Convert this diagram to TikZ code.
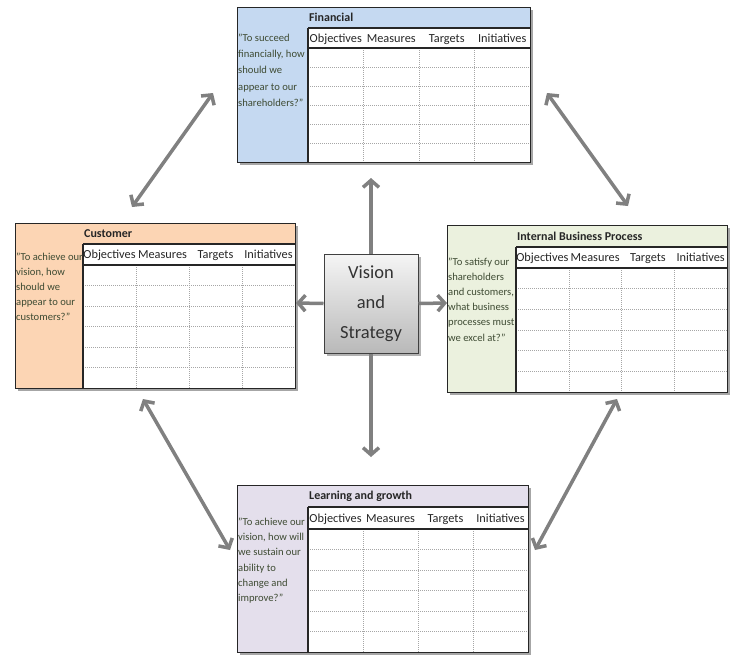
\documentclass[tikz,border=0pt]{standalone}
\usepackage{fontspec}
\setmainfont{Carlito}
\usetikzlibrary{arrows.meta}
\definecolor{finc}{HTML}{C5D9F1}
\definecolor{cusc}{HTML}{FCD5B4}
\definecolor{ibpc}{HTML}{EBF1DE}
\definecolor{lrnc}{HTML}{E4DFEC}
\definecolor{arrowgray}{HTML}{808080}
\definecolor{quotegreen}{HTML}{3E4B33}
\tikzset{
  arr/.style={draw=arrowgray, line width=3.5pt, {Straight Barb[length=7pt,width=16pt]}-{Straight Barb[length=7pt,width=16pt]}},
  arrone/.style={draw=arrowgray, line width=3.5pt, -{Straight Barb[length=7pt,width=16pt]}},
  gridline/.style={draw=gray!70, line width=0.5pt, dash pattern=on 1pt off 1pt},
  rulebar/.style={draw=black!85, line width=1.3pt},
  panel/.style={draw=black!85, line width=1.3pt, inner sep=0pt, anchor=north west},
  headlbl/.style={font=\fontsize{12.3}{14}\selectfont, text=black!85, inner sep=0pt, anchor=base},
  ptitle/.style={font=\fontsize{12}{14}\selectfont\bfseries, text=black!85, inner sep=0pt, anchor=west},
  quotetxt/.style={text=quotegreen, inner sep=0pt, anchor=north west, align=left},
  visbox/.style={draw=black!75, line width=1pt, top color=gray!8, bottom color=gray!55,
    minimum width=94pt, minimum height=99pt, inner sep=0pt, align=center,
    font=\fontsize{18.5}{30}\selectfont, text=black!80},
}
% #1 name #2 x0 #3 y0 #4 x1 #5 y1 #6 left column x #7 title bottom #8 header bottom #9 colour
\newcommand\bscpanel[9]{%
  \fill[black!35] (#2+2.5,#3+2.5) rectangle (#4+2.5,#5+2.5);
  \fill[white] (#2,#3) rectangle (#4,#5);
  \fill[#9] (#2,#3) rectangle (#4,#7);
  \fill[#9] (#2,#7) rectangle (#6,#5);
  \foreach \k in {1,...,5} \draw[gridline] (#6,{#8+\k*(#5-#8)/6}) -- (#4,{#8+\k*(#5-#8)/6});
  \foreach \k in {1,2,3} \draw[gridline] ({#6+\k*(#4-#6)/4},#8) -- ({#6+\k*(#4-#6)/4},#5);
  \draw[rulebar] (#6,#7) -- (#4,#7) (#6,#8) -- (#4,#8) (#6,#7) -- (#6,#5);
  \foreach \t [count=\k] in {Objectives,Measures,Targets,Initiatives}
    \node[headlbl] at ({#6+(\k-0.5)*(#4-#6)/4},{(#7+#8)/2+4.2}) {\t};
  \node[panel, minimum width={#4-#2}, minimum height={#5-#3}] (#1) at (#2,#3) {};
}
\begin{document}
\begin{tikzpicture}[x=1pt,y=-1pt]
\useasboundingbox (0,0) rectangle (735,654);

\bscpanel{fin}{237}{7}{530}{162}{308}{28}{48}{finc}
\bscpanel{cus}{15}{223}{295}{388}{83}{244}{265}{cusc}
\bscpanel{ibp}{447}{225}{727}{392}{516}{247}{268}{ibpc}
\bscpanel{lrn}{237}{485}{528}{652}{308}{507}{529}{lrnc}

\node[ptitle] (fint) at (309,17.5) {Financial};
\node[ptitle] (cust) at (84,233.5) {Customer};
\node[ptitle] (ibpt) at (517,236) {Internal Business Process};
\node[ptitle] (lrnt) at (309,496) {Learning and growth};

\node[quotetxt, font=\fontsize{10.6}{16.3}\selectfont] (finq) at (238,33.5)
  {"To succeed\\financially, how\\should we\\appear to our\\shareholders?"};
\node[quotetxt, font=\fontsize{10.6}{15}\selectfont] (cusq) at (16,252.5)
  {"To achieve our\\vision, how\\should we\\appear to our\\customers?"};
\node[quotetxt, font=\fontsize{10.6}{15.2}\selectfont] (ibpq) at (448,257.5)
  {"To satisfy our\\shareholders\\and customers,\\what business\\processes must\\we excel at?"};
\node[quotetxt, font=\fontsize{10.6}{15.3}\selectfont] (lrnq) at (238,517.5)
  {"To achieve our\\vision, how will\\we sustain our\\ability to\\change and\\improve?"};

\fill[black!30] (326.5,256.5) rectangle (420.5,355.5);
\node[visbox] (vis) at (371,303.5) {Vision\\and\\Strategy};

\coordinate (up) at (371,178);
\coordinate (down) at (371,457);
\coordinate (left) at (296,303);
\coordinate (right) at (447,303);
\draw[arrone] (vis.north) -- (up);
\draw[arrone] (vis.south) -- (down);
\draw[arrone] (vis.west) -- (left);
\draw[arrone] (vis.east) -- (right);

\coordinate (a1) at (213,93);  \coordinate (b1) at (132,207);
\coordinate (a2) at (547,93);  \coordinate (b2) at (628,206);
\coordinate (a3) at (143,399); \coordinate (b3) at (230,550);
\coordinate (a4) at (617,399); \coordinate (b4) at (535,550);
\draw[arr] (a1) -- (b1);
\draw[arr] (a2) -- (b2);
\draw[arr] (a3) -- (b3);
\draw[arr] (a4) -- (b4);
\end{tikzpicture}
\end{document}
